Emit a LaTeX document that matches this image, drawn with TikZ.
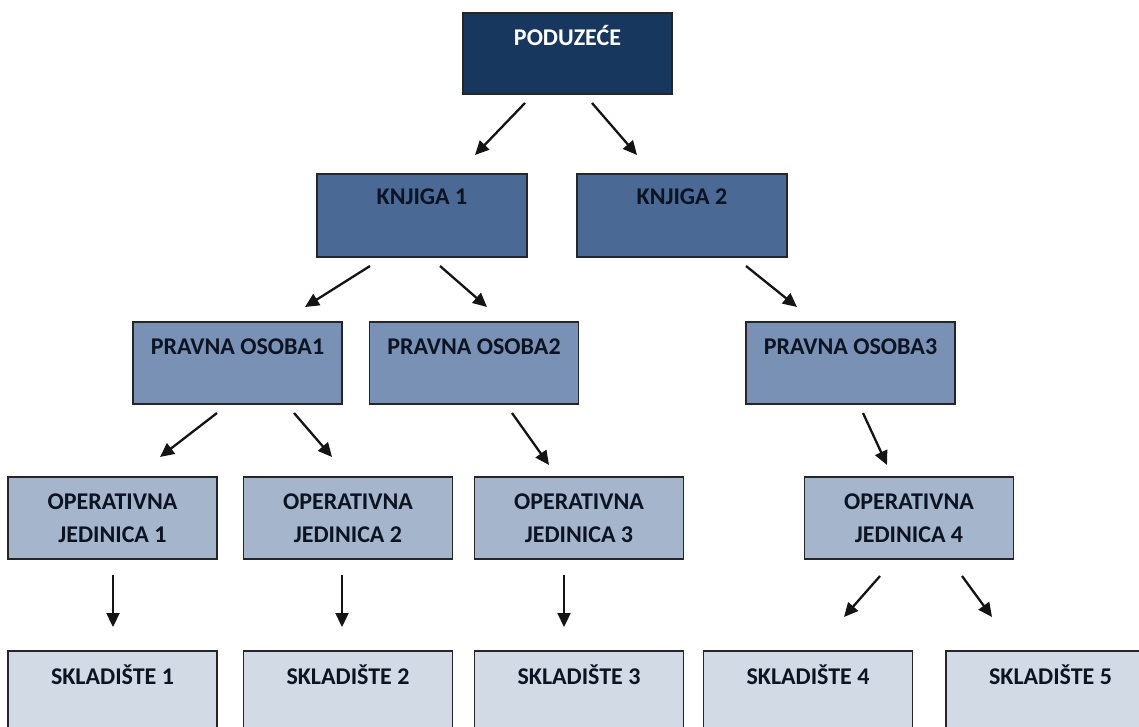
\documentclass[tikz,border=0pt]{standalone}
\usepackage{fontspec}
\setmainfont{Carlito}
\usetikzlibrary{arrows.meta,calc}
\definecolor{cPod}{HTML}{17375E}
\definecolor{cKnj}{HTML}{4A6994}
\definecolor{cPra}{HTML}{7891B5}
\definecolor{cOpe}{HTML}{A5B5CB}
\definecolor{cSkl}{HTML}{D2DAE6}
\definecolor{cTxt}{HTML}{0C1322}
\tikzset{
  box/.style={draw=black!85, line width=1.4pt, rectangle, minimum width=209pt, minimum height=82pt, inner sep=0pt, outer sep=0pt},
  txt/.style={font=\fontsize{24}{33}\selectfont\bfseries, text=cTxt, align=center, inner sep=0pt, anchor=center},
  arr/.style={line width=2.3pt, -{Triangle[length=14pt,width=13pt]}, black!92},
}
\begin{document}
\begin{tikzpicture}[x=1pt,y=-1pt]
\clip (0,0) rectangle (1139,727);
\fill[white] (0,0) rectangle (1139,727);
% boxes
\node[box, fill=cPod, minimum height=81pt] (pod) at (567.5,53.5) {};
\node[box, fill=cKnj, minimum width=210pt, minimum height=83pt] (k1) at (422,215.5) {};
\node[box, fill=cKnj, minimum width=210pt, minimum height=83pt] (k2) at (682,215.5) {};
\node[box, fill=cPra] (po1) at (237.5,363) {};
\node[box, fill=cPra] (po2) at (474,363) {};
\node[box, fill=cPra] (po3) at (850.5,363) {};
\node[box, fill=cOpe] (oj1) at (112.5,518) {};
\node[box, fill=cOpe] (oj2) at (348,518) {};
\node[box, fill=cOpe] (oj3) at (579,518) {};
\node[box, fill=cOpe] (oj4) at (909,518) {};
\node[box, fill=cSkl] (sk1) at (112.5,692) {};
\node[box, fill=cSkl] (sk2) at (348,692) {};
\node[box, fill=cSkl] (sk3) at (579,692) {};
\node[box, fill=cSkl] (sk4) at (808,692) {};
\node[box, fill=cSkl] (sk5) at (1050.5,692) {};
% texts
\node[txt, text=white] (tpod) at ($(pod.north)+(0,23)$) {PODUZEĆE};
\node[txt] (tk1) at ($(k1.north)+(0,23)$) {KNJIGA 1};
\node[txt] (tk2) at ($(k2.north)+(0,23)$) {KNJIGA 2};
\node[txt] (tpo1) at ($(po1.north)+(0,25)$) {PRAVNA OSOBA1};
\node[txt] (tpo2) at ($(po2.north)+(0,25)$) {PRAVNA OSOBA2};
\node[txt] (tpo3) at ($(po3.north)+(0,25)$) {PRAVNA OSOBA3};
\node[txt] (toj1a) at ($(oj1.north)+(0,25)$) {OPERATIVNA};
\node[txt] (toj1b) at ($(oj1.north)+(0,58)$) {JEDINICA 1};
\node[txt] (toj2a) at ($(oj2.north)+(0,25)$) {OPERATIVNA};
\node[txt] (toj2b) at ($(oj2.north)+(0,58)$) {JEDINICA 2};
\node[txt] (toj3a) at ($(oj3.north)+(0,25)$) {OPERATIVNA};
\node[txt] (toj3b) at ($(oj3.north)+(0,58)$) {JEDINICA 3};
\node[txt] (toj4a) at ($(oj4.north)+(0,25)$) {OPERATIVNA};
\node[txt] (toj4b) at ($(oj4.north)+(0,58)$) {JEDINICA 4};
\node[txt] (tsk1) at ($(sk1.north)+(0,24)$) {SKLADIŠTE 1};
\node[txt] (tsk2) at ($(sk2.north)+(0,24)$) {SKLADIŠTE 2};
\node[txt] (tsk3) at ($(sk3.north)+(0,24)$) {SKLADIŠTE 3};
\node[txt] (tsk4) at ($(sk4.north)+(0,24)$) {SKLADIŠTE 4};
\node[txt] (tsk5) at ($(sk5.north)+(0,24)$) {SKLADIŠTE 5};
% arrows
\draw[arr] ($(pod.south)+(-42.5,9)$) -- ($(k1.north)+(53,-19)$);
\draw[arr] ($(pod.south)+(24.5,9)$) -- ($(k2.north)+(-45,-19)$);
\draw[arr] ($(k1.south)+(-52,9)$) -- ($(po1.north)+(67.5,-15)$);
\draw[arr] ($(k1.south)+(18,9)$) -- ($(po2.north)+(13,-15)$);
\draw[arr] ($(k2.south)+(64,9)$) -- ($(po3.north)+(-53.5,-15)$);
\draw[arr] ($(po1.south)+(-20.5,9)$) -- ($(oj1.north)+(47.5,-20)$);
\draw[arr] ($(po1.south)+(56.5,9)$) -- ($(oj2.north)+(-16,-20)$);
\draw[arr] ($(po2.south)+(38,9)$) -- ($(oj3.north)+(-30,-12)$);
\draw[arr] ($(po3.south)+(12.5,9)$) -- ($(oj4.north)+(-22,-12)$);
\draw[arr] ($(oj1.south)+(0.5,16)$) -- ($(sk1.north)+(0.5,-24)$);
\draw[arr] ($(oj2.south)+(-6,16)$) -- ($(sk2.north)+(-6,-24)$);
\draw[arr] ($(oj3.south)+(-15,16)$) -- ($(sk3.north)+(-15,-24)$);
\draw[arr] ($(oj4.south)+(-29,17)$) -- ($(sk4.north)+(36,-34)$);
\draw[arr] ($(oj4.south)+(53,17)$) -- ($(sk5.north)+(-58.5,-34)$);
\end{tikzpicture}
\end{document}
